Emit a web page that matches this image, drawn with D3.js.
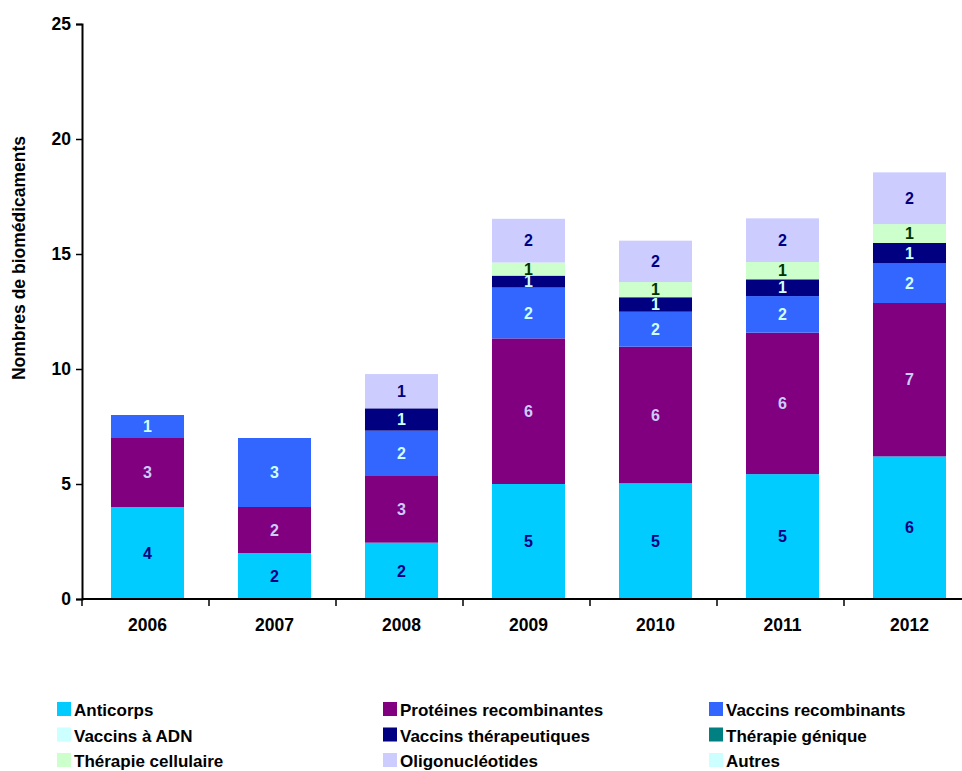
<!DOCTYPE html>
<html>
<head>
<meta charset="utf-8">
<script src="https://cdn.jsdelivr.net/npm/d3@7"></script>
<style>
  html, body { margin: 0; padding: 0; background: #ffffff; }
  svg { display: block; font-family: "Liberation Sans", Arial, sans-serif; }
</style>
</head>
<body>
<svg id="chart" width="962" height="771"></svg>
<script>
// Years on the x axis
const years = ["2006", "2007", "2008", "2009", "2010", "2011", "2012"];

// Number of biomedicines per category and year
const anticorps             = [4.0, 2.0, 2.45, 5.0, 5.03, 5.43, 6.2];
const proteinesRecomb       = [3.0, 2.0, 2.93, 6.33, 5.94, 6.15, 6.67];
const vaccinsRecomb         = [1.0, 3.0, 1.94, 2.21, 1.52, 1.59, 1.72];
const vaccinsADN            = [0, 0, 0, 0, 0, 0, 0];
const vaccinsTherapeutiques = [0, 0, 0.97, 0.52, 0.63, 0.73, 0.89];
const therapieGenique       = [0, 0, 0, 0, 0, 0, 0];
const therapieCellulaire    = [0, 0, 0, 0.57, 0.66, 0.75, 0.82];
const oligonucleotides      = [0, 0, 1.49, 1.9, 1.8, 1.9, 2.25];
const autres                = [0, 0, 0, 0, 0, 0, 0];

// Y axis ticks
const yTicks = [0, 5, 10, 15, 20, 25];

// Series in stacking order (bottom to top)
const seriesNames = [
  "Anticorps", "Protéines recombinantes", "Vaccins recombinants",
  "Vaccins à ADN", "Vaccins thérapeutiques", "Thérapie génique",
  "Thérapie cellulaire", "Oligonucléotides", "Autres"
];
const seriesValues = [
  anticorps, proteinesRecomb, vaccinsRecomb,
  vaccinsADN, vaccinsTherapeutiques, therapieGenique,
  therapieCellulaire, oligonucleotides, autres
];
const fillColors = [
  "#00CCFF", "#800080", "#3366FF",
  "#CCFFFF", "#000080", "#008080",
  "#CCFFCC", "#CCCCFF", "#CCFFFF"
];
const labelColors = [
  "#000080", "#CCCCFF", "#CCFFFF",
  "#000080", "#CCFFFF", "#FFFFFF",
  "#003300", "#000080", "#000080"
];

// Build a row per year for d3.stack
const rows = years.map((yr, i) => {
  const r = { year: yr };
  seriesNames.forEach((s, k) => { r[s] = seriesValues[k][i]; });
  return r;
});

const svg = d3.select("#chart");

const x = d3.scaleBand()
  .domain(years)
  .range([82, 971])
  .paddingInner(0.425)
  .paddingOuter(0.2125);

const y = d3.scaleLinear()
  .domain([0, 25])
  .range([599, 24]);

const stack = d3.stack().keys(seriesNames);
const layers = stack(rows);

// Stacked bars
const layerG = svg.append("g").selectAll("g")
  .data(layers)
  .join("g")
  .attr("fill", (d, i) => fillColors[i]);

layerG.selectAll("rect")
  .data(d => d.filter(p => p[1] - p[0] > 0))
  .join("rect")
  .attr("x", d => x(d.data.year) + 2)
  .attr("width", x.bandwidth())
  .attr("y", d => y(d[1]))
  .attr("height", d => y(d[0]) - y(d[1]));

// Value labels centred in each segment
const labelG = svg.append("g")
  .attr("font-size", 16)
  .attr("font-weight", "bold")
  .attr("text-anchor", "middle");

layers.forEach((layer, i) => {
  labelG.selectAll(null)
    .data(layer.filter(p => p[1] - p[0] > 0))
    .join("text")
    .attr("x", d => x(d.data.year) + 2 + x.bandwidth() / 2)
    .attr("y", d => (y(d[0]) + y(d[1])) / 2)
    .attr("dy", "0.36em")
    .attr("fill", labelColors[i])
    .text(d => Math.round(d[1] - d[0]));
});

// Y axis
const yAxis = d3.axisLeft(y)
  .tickValues(yTicks)
  .tickSize(6)
  .tickPadding(5)
  .tickFormat(d3.format("d"));

const yG = svg.append("g")
  .attr("transform", "translate(82,0)")
  .call(yAxis);
yG.select(".domain").attr("stroke", "#000").attr("stroke-width", 2);
yG.selectAll(".tick line").attr("stroke", "#000").attr("stroke-width", 1.5);
yG.selectAll(".tick text")
  .attr("font-size", 17.5)
  .attr("font-weight", "bold")
  .attr("fill", "#000")
  .attr("font-family", "Liberation Sans, Arial, sans-serif");

// X axis: labels under bars, ticks on category boundaries
const xAxis = d3.axisBottom(x).tickSize(0).tickPadding(20);
const xG = svg.append("g")
  .attr("transform", "translate(2,599)")
  .call(xAxis);
xG.select(".domain").remove();
xG.selectAll(".tick text")
  .attr("font-size", 17.5)
  .attr("font-weight", "bold")
  .attr("fill", "#000")
  .attr("font-family", "Liberation Sans, Arial, sans-serif");

svg.append("line")
  .attr("x1", 82).attr("x2", 971)
  .attr("y1", 599).attr("y2", 599)
  .attr("stroke", "#000").attr("stroke-width", 2);

const boundaries = d3.range(years.length + 1).map(i => x.range()[0] + i * x.step());
svg.append("g").selectAll("line")
  .data(boundaries)
  .join("line")
  .attr("x1", d => d).attr("x2", d => d)
  .attr("y1", 599).attr("y2", 606)
  .attr("stroke", "#000").attr("stroke-width", 1.5);

// Y axis title
svg.append("text")
  .attr("transform", "translate(25,258) rotate(-90)")
  .attr("text-anchor", "middle")
  .attr("font-size", 17.5)
  .attr("font-weight", "bold")
  .attr("fill", "#000")
  .text("Nombres de biomédicaments");

// Legend: 3 columns x 3 rows
const legendCols = [57, 383, 709];
const legendRows = [716, 741.5, 767];
const legend = svg.append("g")
  .selectAll("g")
  .data(seriesNames)
  .join("g")
  .attr("transform", (d, i) => `translate(${legendCols[i % 3]},${legendRows[Math.floor(i / 3)]})`);

legend.append("rect")
  .attr("x", 0).attr("y", -14)
  .attr("width", 14).attr("height", 14)
  .attr("fill", (d, i) => fillColors[i]);

legend.append("text")
  .attr("x", 17).attr("y", 0)
  .attr("font-size", 17)
  .attr("font-weight", "bold")
  .attr("fill", "#000")
  .text(d => d);
</script>
</body>
</html>
